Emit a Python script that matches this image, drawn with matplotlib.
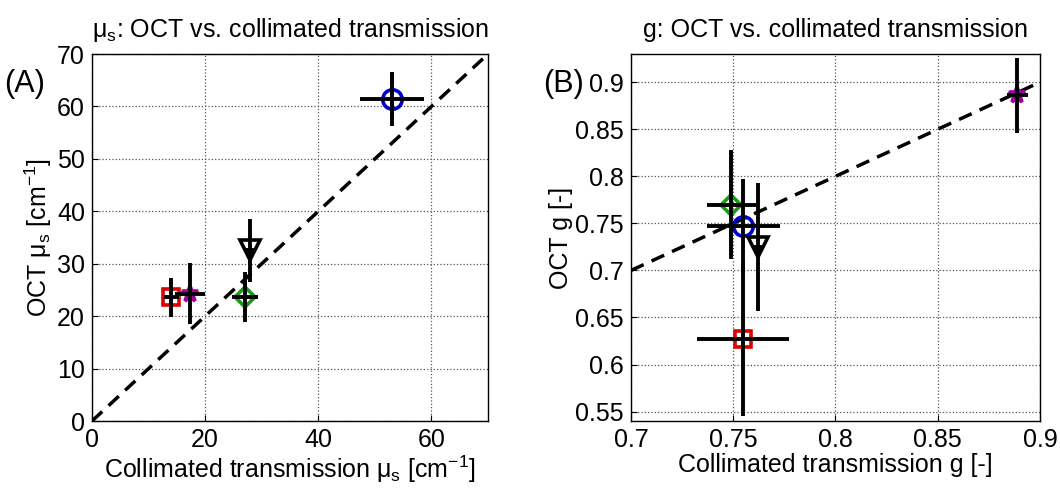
import matplotlib
matplotlib.use("Agg")
import matplotlib.pyplot as plt
import numpy as np

plt.rcParams['font.family'] = ['Liberation Sans', 'DejaVu Sans']
plt.rcParams['mathtext.fontset'] = 'custom'
plt.rcParams['mathtext.rm'] = 'Liberation Sans'
plt.rcParams['mathtext.it'] = 'Liberation Sans:italic'
plt.rcParams['mathtext.default'] = 'rm'

# sample order: blue circle, black triangle, green diamond, red square, magenta star
markers = ['o', 'v', 'D', 's', '*']
colors = ['#0000cc', 'black', '#1a9a1a', '#dd0000', '#a000a0']
msizes = [14, 14, 10, 11, 12]

# (A) scattering coefficient mu_s [cm^-1]
mus_ct = [53.0, 27.9, 27.0, 14.0, 17.3]
mus_ct_err = [5.7, 0.8, 2.3, 1.3, 2.6]
mus_oct = [61.4, 32.6, 23.7, 23.6, 24.3]
mus_oct_err = [5.2, 6.0, 4.8, 3.7, 5.8]

# (B) anisotropy g [-]
g_ct = [0.755, 0.762, 0.749, 0.755, 0.889]
g_ct_err = [0.018, 0.002, 0.012, 0.0225, 0.005]
g_oct = [0.747, 0.725, 0.770, 0.627, 0.886]
g_oct_err = [0.050, 0.068, 0.058, 0.082, 0.040]

FS = 18


def draw_panel(ax, xs, xerr, ys, yerr, lim):
    ax.plot(lim, lim, '--', color='black', lw=2.5, dashes=(4, 2.5), zorder=2)
    for x, y, m, c, s in zip(xs, ys, markers, colors, msizes):
        ax.plot(x, y, m, color=c, mfc='none', mec=c, ms=s, mew=2.6, zorder=3)
    ax.errorbar(xs, ys, xerr=xerr, yerr=yerr, fmt='none', ecolor='black',
                elinewidth=2.8, capsize=0, zorder=4)
    ax.grid(True, linestyle=':', color='#555555', lw=0.9)
    ax.tick_params(direction='in', labelsize=FS, length=4, pad=5,
                   top=False, right=False)
    for sp in ax.spines.values():
        sp.set_linewidth(1.0)


fig = plt.figure(figsize=(10.6, 4.96), dpi=100)

axA = fig.add_axes([0.0868, 0.1512, 0.3736, 0.7399])
draw_panel(axA, mus_ct, mus_ct_err, mus_oct, mus_oct_err, [0, 70])
axA.set_xlim(0, 70)
axA.set_ylim(0, 70)
axA.set_xticks([0, 20, 40, 60])
axA.set_yticks(np.arange(0, 71, 10))
axA.set_xlabel('Collimated transmission μ$_\\mathrm{s}$ [cm$^{-1}$]', fontsize=FS, labelpad=1)
axA.set_ylabel('OCT μ$_\\mathrm{s}$ [cm$^{-1}$]', fontsize=FS, labelpad=2)
axA.set_title('μ$_\\mathrm{s}$: OCT vs. collimated transmission', fontsize=FS, pad=12)
fig.text(0.004, 0.815, '(A)', fontsize=22)

axB = fig.add_axes([0.5953, 0.1512, 0.3858, 0.7399])
draw_panel(axB, g_ct, g_ct_err, g_oct, g_oct_err, [0.7, 0.9])
axB.set_xlim(0.7, 0.9)
axB.set_ylim(0.54, 0.93)
axB.set_xticks([0.7, 0.75, 0.8, 0.85, 0.9])
axB.set_xticklabels(['0.7', '0.75', '0.8', '0.85', '0.9'])
axB.set_yticks([0.55, 0.6, 0.65, 0.7, 0.75, 0.8, 0.85, 0.9])
axB.set_yticklabels(['0.55', '0.6', '0.65', '0.7', '0.75', '0.8', '0.85', '0.9'])
axB.set_xlabel('Collimated transmission g [-]', fontsize=FS, labelpad=1)
axB.set_ylabel('OCT g [-]', fontsize=FS, labelpad=2)
axB.set_title('g: OCT vs. collimated transmission', fontsize=FS, pad=12)
fig.text(0.512, 0.815, '(B)', fontsize=22)

fig.savefig('out.png', dpi=100)
